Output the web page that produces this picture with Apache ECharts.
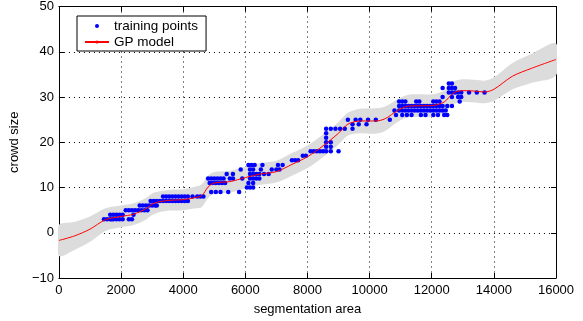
<!DOCTYPE html>
<html>
<head>
<meta charset="utf-8">
<script src="https://cdn.jsdelivr.net/npm/echarts@6/dist/echarts.min.js"></script>
<style>
  html, body { margin: 0; padding: 0; background: #fff; }
  #chart { width: 583px; height: 321px; }
</style>
</head>
<body>
<div id="chart"></div>
<script>
// training points, grouped by crowd size (integer counts)
var levelY = [3, 4, 5, 6, 7, 8, 9, 10, 11, 12, 13, 14, 15, 16, 17, 18, 19, 20, 21, 22,
              23, 24, 25, 26, 27, 28, 29, 30, 31, 32, 33];
var levelX = [
    [1450, 1550, 1650, 1700, 1750, 1850, 1950, 2050, 2250, 2350],
    [1650, 1750, 1850, 1950, 2050, 2400],
    [2150, 2250, 2350, 2450, 2550, 2650, 2750, 2850],
    [2600, 2700, 2800, 2900, 3000, 3100, 3150],
    [2950, 3050, 3150, 3250, 3350, 3450, 3550, 3650, 3750, 3850, 3950, 4050, 4150],
    [3350, 3450, 3550, 3650, 3750, 3850, 3950, 4050, 4150, 4300, 4450, 4550, 4650],
    [4900, 5050, 5200, 5450, 5800],
    [6050, 6150, 6250],
    [4850, 4950, 5050, 5150, 5250, 5350, 6100, 6250],
    [4800, 4900, 5000, 5100, 5200, 5300, 5500, 5600, 5900, 6150, 6250, 6350, 6450],
    [5400, 5600, 6150, 6250, 6350, 6450, 6600, 6750],
    [5850, 6150, 6250, 6500, 6850, 7000, 7100],
    [6100, 6200, 6300, 6550, 7050, 7200],
    [7500, 7600, 7700],
    [7850, 7950],
    [8100, 8200, 8300, 8400, 8500, 8600, 8750, 9000],
    [8600, 8750],
    [8600, 8750],
    [8600],
    [8600],
    [8600, 8750, 8900, 9050, 9200, 9450],
    [9450, 9650, 9900],
    [9300, 9550, 9700, 9950, 10200, 10650],
    [10850, 11050, 11200, 11350, 11650, 11800, 12050, 12200, 12400, 12500],
    [10800, 10950, 11050, 11150, 11250, 11350, 11450, 11550, 11650, 11750, 11850, 11950, 12050, 12150, 12250, 12350, 12450],
    [10950, 11050, 11150, 11250, 11350, 11450, 11550, 11650, 11750, 11850, 11950, 12050, 12150, 12250, 12350, 12500, 12650],
    [10950, 11050, 11150, 11500, 11600, 12050, 12150, 12250, 12900],
    [12350, 12650, 12850, 12950],
    [12550, 12650, 12750, 12850, 12950, 13200, 13450, 13700],
    [12350, 12550, 12650, 12750],
    [12550, 12650]
];

// GP model mean and half width of the grey band
var modelX = [0, 500, 1000, 1500, 2000, 2400, 2800, 3000, 3200, 3600, 4000, 4400, 4600, 4800, 5000,
              5500, 6000, 6500, 7000, 7500, 8000, 8500, 9000, 9300, 9700, 10200, 10500, 10900, 11250,
              12000, 12400, 12700, 13000, 13400, 13700, 14000, 14600, 15200, 16000];
var modelMean = [-1.7, -0.7, 0.8, 2.9, 3.6, 4.1, 5.3, 6.3, 6.8, 7.2, 7.3, 7.8, 8.2, 10.1, 11.0,
                 11.3, 12.2, 13.0, 13.5, 15.1, 16.8, 19.2, 22.0, 24.0, 24.7, 24.7, 25.2, 27.0, 28.0,
                 28.1, 28.9, 30.9, 31.4, 31.3, 31.1, 31.7, 34.6, 36.3, 38.3];
var modelHalf = [3.4, 3.1, 2.8, 2.5, 2.4, 2.4, 2.4, 2.4, 2.3, 2.3, 2.3, 2.4, 2.5, 2.5, 2.4,
                 2.4, 2.4, 2.4, 2.4, 2.5, 2.5, 2.5, 2.5, 2.5, 2.7, 2.8, 2.7, 2.5, 2.5,
                 2.5, 2.5, 2.5, 2.5, 2.5, 2.5, 2.6, 2.9, 3.2, 3.5];

var xTicks = {min: 0, max: 16000, interval: 2000};
var yTicks = {min: -10, max: 50, interval: 10};

var chart = echarts.init(document.getElementById('chart'));

var points = [];
levelY.forEach(function (y, i) {
    levelX[i].forEach(function (x) { points.push([x, y]); });
});
var meanData = modelX.map(function (x, i) { return [x, modelMean[i]]; });

var font = 'Liberation Sans, Arial, sans-serif';
function minus(v) { return String(v).replace('-', '\u2212'); }

// grey confidence band as one polygon, upper edge then lower edge back
function renderBand(params, api) {
    var pts = [];
    for (var i = 0; i < modelX.length; i++) {
        pts.push(api.coord([modelX[i], modelMean[i] + modelHalf[i]]));
    }
    for (var j = modelX.length - 1; j >= 0; j--) {
        pts.push(api.coord([modelX[j], modelMean[j] - modelHalf[j]]));
    }
    return {
        type: 'polygon',
        shape: {points: pts, smooth: 0.3},
        style: {fill: '#dcdcdc', stroke: null}
    };
}

var option = {
    animation: false,
    grid: {left: 58, right: 27, top: 6, bottom: 39},
    legend: {
        data: ['training points', 'GP model'],
        orient: 'vertical',
        left: 77, top: 16,
        borderColor: '#000', borderWidth: 1, borderRadius: 0,
        backgroundColor: '#fff',
        padding: [3, 8, 2, 7],
        itemGap: 2, itemWidth: 24, itemHeight: 4,
        textStyle: {fontFamily: font, fontSize: 13.5, color: '#000'}
    },
    xAxis: [{
        type: 'value', min: xTicks.min, max: xTicks.max, interval: xTicks.interval,
        name: 'segmentation area', nameLocation: 'middle', nameGap: 25,
        nameTextStyle: {fontFamily: font, fontSize: 13, color: '#000'},
        axisLine: {onZero: false, lineStyle: {color: '#000'}},
        axisTick: {inside: true, length: 5, lineStyle: {color: '#000'}},
        axisLabel: {fontFamily: font, fontSize: 13, color: '#000', margin: 6,
                    formatter: function (v) { return String(v); }},
        splitLine: {show: true, lineStyle: {color: '#000', type: [1, 4], width: 1}}
    }, {
        type: 'value', position: 'top', min: xTicks.min, max: xTicks.max, interval: xTicks.interval,
        axisLine: {show: true, onZero: false, lineStyle: {color: '#000'}},
        axisTick: {inside: true, length: 5, lineStyle: {color: '#000'}},
        axisLabel: {show: false}, splitLine: {show: false}
    }],
    yAxis: [{
        type: 'value', min: yTicks.min, max: yTicks.max, interval: yTicks.interval,
        name: 'crowd size', nameLocation: 'middle', nameGap: 29,
        nameTextStyle: {fontFamily: font, fontSize: 13, color: '#000'},
        axisLine: {show: true, onZero: false, lineStyle: {color: '#000'}},
        axisTick: {show: true, inside: true, length: 5, lineStyle: {color: '#000'}},
        axisLabel: {fontFamily: font, fontSize: 13, color: '#000', margin: 5, formatter: minus},
        splitLine: {show: true, lineStyle: {color: '#000', type: [1, 4], width: 1}}
    }, {
        type: 'value', position: 'right', min: yTicks.min, max: yTicks.max, interval: yTicks.interval,
        axisLine: {show: true, onZero: false, lineStyle: {color: '#000'}},
        axisTick: {show: true, inside: true, length: 5, lineStyle: {color: '#000'}},
        axisLabel: {show: false}, splitLine: {show: false}
    }],
    series: [
        {
            name: 'band', type: 'custom', data: [0],
            renderItem: renderBand, silent: true, clip: true, z: 1
        },
        {
            name: 'training points', type: 'scatter', data: points,
            symbol: 'circle', symbolSize: 4.5,
            itemStyle: {color: '#0000ff', opacity: 1}, z: 3
        },
        {
            name: 'GP model', type: 'line', data: meanData,
            smooth: 0.3, symbol: 'none',
            lineStyle: {color: '#ff0000', width: 1}, itemStyle: {color: '#ff0000'}, z: 4
        }
    ]
};

option && chart.setOption(option);
</script>
</body>
</html>
